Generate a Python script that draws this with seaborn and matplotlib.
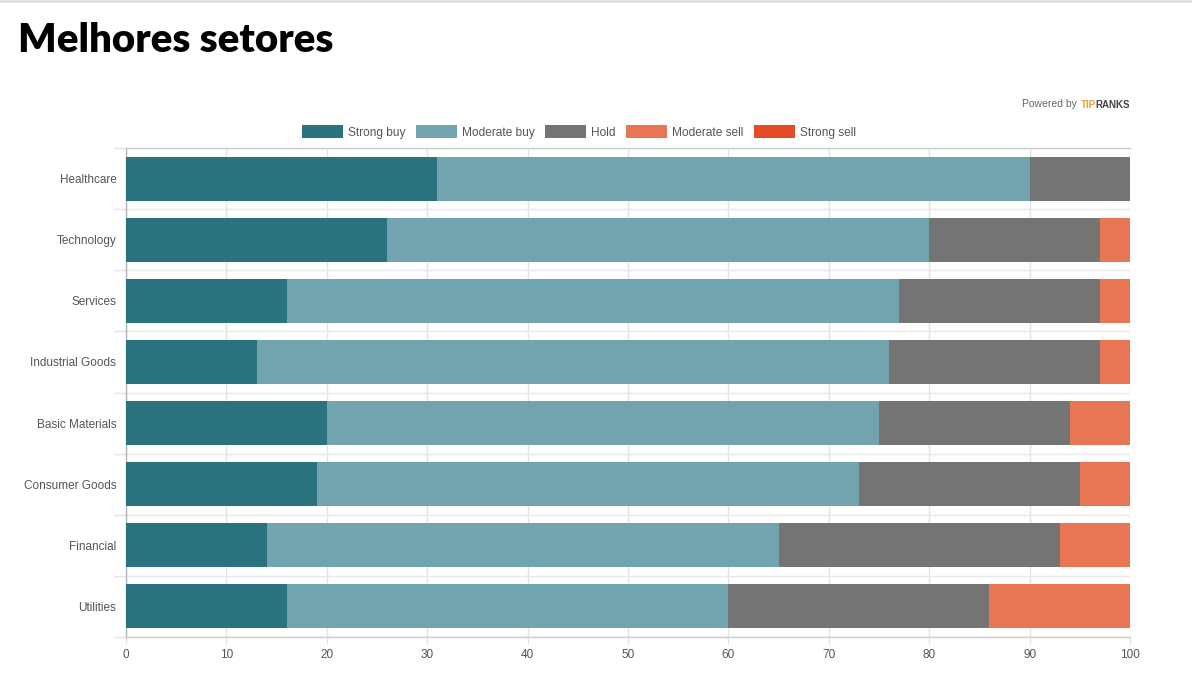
import matplotlib
matplotlib.use("Agg")
import matplotlib.pyplot as plt
import matplotlib.patches as mpatches
import numpy as np
import pandas as pd
import seaborn as sns

sectors = ["Healthcare", "Technology", "Services", "Industrial Goods",
           "Basic Materials", "Consumer Goods", "Financial", "Utilities"]
series_names = ["Strong buy", "Moderate buy", "Hold", "Moderate sell", "Strong sell"]
strong_buy = [31, 26, 16, 13, 20, 19, 14, 16]
moderate_buy = [59, 54, 61, 63, 55, 54, 51, 44]
hold = [10, 17, 20, 21, 19, 22, 28, 26]
moderate_sell = [0, 3, 3, 3, 6, 5, 7, 14]
strong_sell = [0, 0, 0, 0, 0, 0, 0, 0]
x_ticks = [0, 10, 20, 30, 40, 50, 60, 70, 80, 90, 100]

colors = ["#2a737e", "#71a4ae", "#747474", "#e87654", "#e34a26"]

sns.set_theme(style="white")
plt.rcParams["font.family"] = ["Liberation Sans", "DejaVu Sans"]

series = [strong_buy, moderate_buy, hold, moderate_sell, strong_sell]
cum = np.cumsum(np.array(series, dtype=float), axis=0)

fig = plt.figure(figsize=(11.92, 6.93), dpi=100)
ax = fig.add_axes([126 / 1192, 1 - 637 / 693, (1130 - 126) / 1192, (637 - 148) / 693])

# Draw cumulative bars from outermost to innermost
for i in range(len(series) - 1, -1, -1):
    df = pd.DataFrame({"sector": sectors, "value": cum[i]})
    sns.barplot(data=df, x="value", y="sector", orient="h", color=colors[i],
                width=0.72, saturation=1, ax=ax, zorder=3, linewidth=0)

ax.set_xlim(0, 100)
ax.set_ylim(len(sectors) - 0.5, -0.5)
ax.set_xlabel("")
ax.set_ylabel("")
ax.set_xticks(x_ticks)
ax.set_xticklabels([str(t) for t in x_ticks])
ax.set_yticks(range(len(sectors)))
ax.set_yticklabels(sectors)
ax.set_yticks(np.arange(-0.5, len(sectors), 1), minor=True)
ax.tick_params(axis="y", which="major", length=0, pad=7, labelsize=8.5, labelcolor="#555555")
ax.tick_params(axis="y", which="minor", length=9, width=1, color="#e3e3e3", left=True)
ax.tick_params(axis="x", which="major", length=5, width=1, color="#e3e3e3", bottom=True,
               labelsize=8.5, labelcolor="#555555", pad=4)
ax.grid(True, axis="x", which="major", color="#e3e3e3", linewidth=1, zorder=0)
ax.grid(True, axis="y", which="minor", color="#e8e8e8", linewidth=1, zorder=0)
ax.grid(False, axis="y", which="major")
ax.set_axisbelow(True)
ax.spines["right"].set_visible(False)
ax.spines["left"].set_color("#b5b5b5")
ax.spines["bottom"].set_color("#cccccc")
ax.spines["top"].set_color("#cccccc")
for s in ["left", "bottom", "top"]:
    ax.spines[s].set_linewidth(1)

# Title
fig.text(18 / 1192, 1 - 40 / 693, "Melhores setores", fontsize=29, fontweight="heavy",
         family=["Lato", "DejaVu Sans"], color="#000000", va="center", ha="left")

# Top border line
fig.add_artist(plt.Line2D([0, 1], [1 - 1 / 693, 1 - 1 / 693], color="#e0e0e0", linewidth=2))

# Powered by
fig.text(1077 / 1192, 1 - 104 / 693, "Powered by", fontsize=7.5, color="#666666",
         va="center", ha="right")
fig.text(1081 / 1192, 1 - 105 / 693, "TIP", fontsize=7, fontweight="bold",
         color="#f0a030", va="center", ha="left")
fig.text(1095 / 1192, 1 - 105 / 693, "RANKS", fontsize=7, fontweight="bold",
         color="#444444", va="center", ha="left")

# Legend
handles = [mpatches.Patch(facecolor=c, edgecolor="none", label=n)
           for c, n in zip(colors, series_names)]
leg = fig.legend(handles=handles, loc="center", bbox_to_anchor=(579 / 1192, 1 - 132 / 693),
                 ncol=5, frameon=False, fontsize=8.6, handlelength=3.43, handleheight=1.2,
                 handletextpad=0.46, columnspacing=0.84, labelcolor="#555555")

fig.savefig("out.png", dpi=100)
